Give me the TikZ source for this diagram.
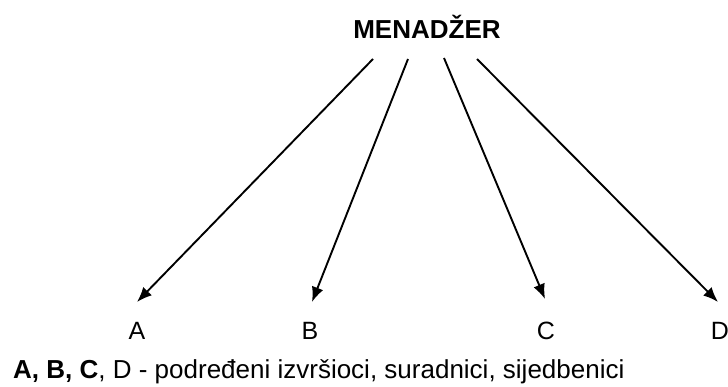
\documentclass[tikz,border=0pt]{standalone}
\usepackage{fontspec}
\setmainfont{Liberation Sans}
\usetikzlibrary{arrows.meta}
\begin{document}
\begin{tikzpicture}[x=1pt,y=-1pt,
  lbl/.style={inner sep=0pt,font=\fontsize{25}{29}\selectfont},
  arr/.style={line width=1.9pt,-{Latex[length=15pt,width=12pt]}}]
\useasboundingbox (0,0) rectangle (728,387);
\node[lbl,font=\fontsize{26}{30}\selectfont\bfseries] (m) at (427,27) {MENADŽER};
\coordinate (s1) at (373,59);
\coordinate (s2) at (408,59);
\coordinate (s3) at (444,58);
\coordinate (s4) at (477,59);
\coordinate (t1) at (137,302);
\coordinate (t2) at (312,302);
\coordinate (t3) at (545,299);
\coordinate (t4) at (718,302);
\node[lbl] (a) at (137,331) {A};
\node[lbl] (b) at (310,331) {B};
\node[lbl] (c) at (546,331) {C};
\node[lbl] (d) at (720,331) {D};
\draw[arr] (s1) -- (t1);
\draw[arr] (s2) -- (t2);
\draw[arr] (s3) -- (t3);
\draw[arr] (s4) -- (t4);
\node[lbl,anchor=base west,font=\fontsize{26}{30}\selectfont] (note) at (13,378) {\textbf{A, B, C}, D - podređeni izvršioci, suradnici, sijedbenici};
\end{tikzpicture}
\end{document}
